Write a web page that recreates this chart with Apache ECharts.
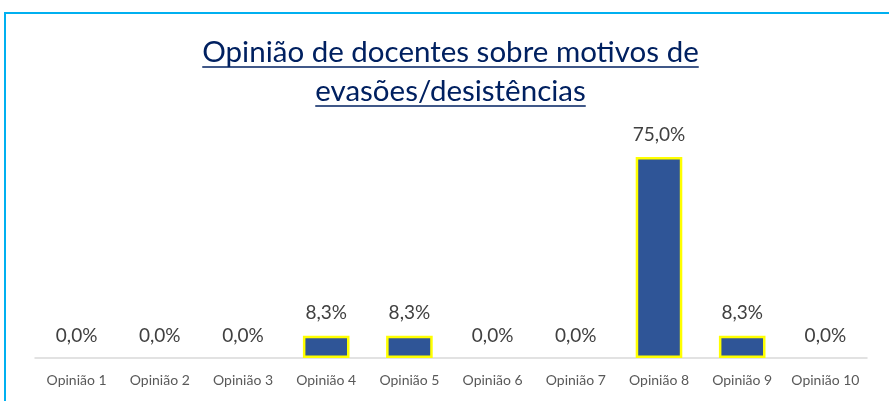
<!DOCTYPE html>
<html>
<head>
<meta charset="utf-8">
<script src="https://cdn.jsdelivr.net/npm/echarts@6/dist/echarts.min.js"></script>
<style>
  html, body { margin: 0; padding: 0; background: #fff; }
  #frame { position: absolute; left: 4px; top: 12px; right: 0; bottom: 0;
           border-left: 2px solid #00B0F0; border-top: 2px solid #00B0F0; }
  #chart { position: absolute; left: 0; top: 0; width: 889px; height: 401px; }
</style>
</head>
<body>
<div id="frame"></div>
<div id="chart"></div>
<script>
const categories = ['Opinião 1', 'Opinião 2', 'Opinião 3', 'Opinião 4', 'Opinião 5',
                    'Opinião 6', 'Opinião 7', 'Opinião 8', 'Opinião 9', 'Opinião 10'];
const percentages = [0, 0, 0, 8.3, 8.3, 0, 0, 75, 8.3, 0];
const titleLines = ['Opinião de docentes sobre motivos de', 'evasões/desistências'];

const FONT = 'Lato, "Open Sans", sans-serif';
const NAVY = '#002060';
const TITLE_SIZE = 29.5;
const W = 889;
const TITLE_X = W / 2 + 6;

// width of each title line, used for the underline under it
const measureCtx = document.createElement('canvas').getContext('2d');
measureCtx.font = 'normal ' + TITLE_SIZE + 'px ' + FONT;
const titleMid = [52, 91];
const underlineY = [67, 106];

const titleGraphics = [];
titleLines.forEach((t, i) => {
  const w = measureCtx.measureText(t).width;
  titleGraphics.push({
    type: 'text',
    style: {
      text: t, x: TITLE_X, y: titleMid[i],
      align: 'center', verticalAlign: 'middle',
      fontFamily: FONT, fontSize: TITLE_SIZE, fontWeight: 'normal', fill: NAVY
    }
  });
  titleGraphics.push({
    type: 'line',
    shape: { x1: TITLE_X - w / 2, y1: underlineY[i], x2: TITLE_X + w / 2, y2: underlineY[i] },
    style: { stroke: NAVY, lineWidth: 1.5 }
  });
});

// zero bars get no outline so they don't leave a stroke on the axis
const barData = percentages.map(v => ({
  value: v,
  itemStyle: v === 0 ? { borderWidth: 0 } : {}
}));

const chart = echarts.init(document.getElementById('chart'), null, { renderer: 'canvas' });

chart.setOption({
  animation: false,
  textStyle: { fontFamily: FONT },
  grid: { left: 35, right: 22, top: 157, bottom: 43 },
  xAxis: {
    type: 'category',
    data: categories,
    axisLine: { lineStyle: { color: '#D9D9D9', width: 1.5 } },
    axisTick: { show: false },
    axisLabel: { interval: 0, color: '#595959', fontSize: 14, margin: 15, fontFamily: FONT }
  },
  yAxis: {
    type: 'value', min: 0, max: 75,
    show: false
  },
  series: [{
    type: 'bar',
    data: barData,
    barWidth: '56%',
    itemStyle: { color: '#2F5597', borderColor: '#FFFF00', borderWidth: 2.5 },
    label: {
      show: true,
      position: 'top',
      distance: 13,
      color: '#404040',
      fontSize: 19,
      fontFamily: FONT,
      formatter: p => p.value.toFixed(1).replace('.', ',') + '%'
    }
  }],
  graphic: titleGraphics
});
</script>
</body>
</html>
